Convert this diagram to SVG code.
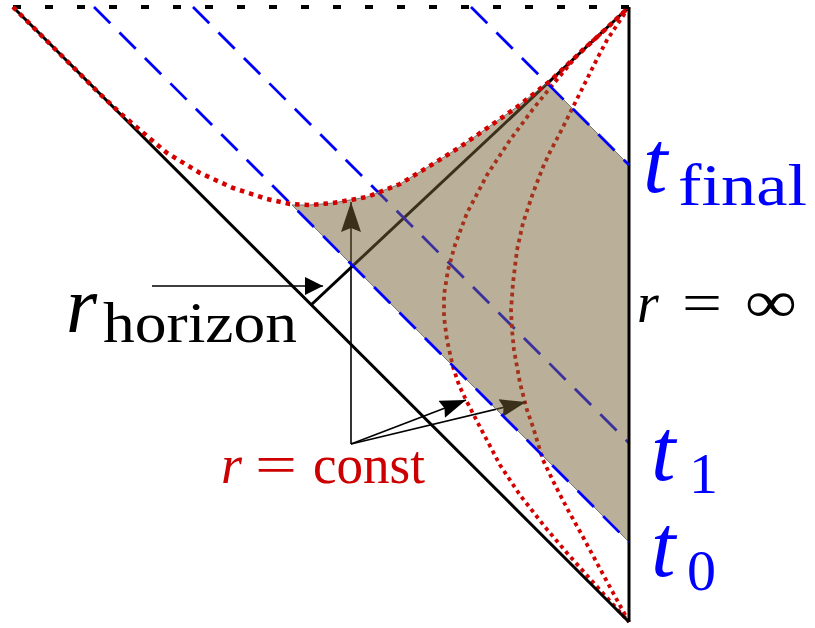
<svg xmlns="http://www.w3.org/2000/svg" width="815" height="628" viewBox="0 0 815 628">
<style>
.frame{stroke:#000;stroke-width:3;fill:none;stroke-linecap:butt}
.top{stroke:#000;stroke-width:4;fill:none;stroke-dasharray:8 24}
.blue{stroke:#0000ff;stroke-width:2.8;fill:none;stroke-dasharray:23 13}
.redout{stroke:#d40000;stroke-width:4.5;fill:none;stroke-dasharray:4.5 5;stroke-linejoin:round}
.redin{stroke:#d40000;stroke-width:3.8;fill:none;stroke-dasharray:3.8 4;stroke-linejoin:round}
.arr{stroke:#000;stroke-width:1.6;fill:none}
.shade{fill:rgb(118,97,53);fill-opacity:0.5;stroke:#777;stroke-width:1}
.it{font-family:"Liberation Serif","Times New Roman",serif;font-style:italic}
.rm{font-family:"Liberation Serif","Times New Roman",serif}
</style>
<defs>
<marker id="headV" markerWidth="32" markerHeight="22" refX="30" refY="10" orient="auto" markerUnits="userSpaceOnUse"><path d="M0,0 L30,10 L0,20 L4,10 Z" fill="#000"/></marker>
<marker id="headH" markerWidth="20" markerHeight="20" refX="18" refY="9" orient="auto" markerUnits="userSpaceOnUse"><path d="M0,0 L18,9 L0,18 Z" fill="#000"/></marker>
<marker id="headC" markerWidth="28" markerHeight="20" refX="26" refY="9" orient="auto" markerUnits="userSpaceOnUse"><path d="M0,0 L26,9 L0,18 L3,9 Z" fill="#000"/></marker>
</defs>

<g id="interior">
  <line id="horizon" class="frame" x1="629" y1="7" x2="311" y2="305"/>
  <line id="t1-line" class="blue" x1="193" y1="7" x2="629" y2="443"/>
  <path id="r-const-1" class="redin" d="M629,7 L605,30 L580,52 L560,76 L550,88 L533,109 L510,140 L487,175 L467,213 L455,245 L448,270 L444,295 L444,317 L447,340 L453,367 L459,385 L466,400 L480,427 L500,465 L520,495 L545,527 L567,553 L600,590 L629,622"/>
  <path id="r-const-2" class="redin" d="M629,7 L617,25 L607,40 L598,57 L590,73 L573,107 L560,133 L550,152 L543,167 L533,193 L523,223 L517,250 L513,283 L511,310 L512,330 L514,350 L520,383 L527,410 L533,427 L543,460 L555,485 L568,510 L583,537 L605,578 L629,622"/>
</g>

<g id="connectors">
  <line class="arr" x1="152" y1="286" x2="323" y2="286" marker-end="url(#headH)"/>
  <line class="arr" x1="351" y1="444" x2="351" y2="202" marker-end="url(#headV)"/>
  <line class="arr" x1="351" y1="444" x2="466" y2="400" marker-end="url(#headC)"/>
  <line class="arr" x1="351" y1="444" x2="526" y2="402" marker-end="url(#headC)"/>
</g>

<g id="shaded-region">
  <path class="shade" d="M292,205 L629,542 L629,165 L547,83 L517,107 L483,131 L460,147 L433,164 L400,184 L367,197 L333,203 L310,205 Z"/>
</g>

<g id="boundary">
  <line id="top-edge" class="top" x1="13" y1="7" x2="629" y2="7"/>
  <line id="left-edge" class="frame" x1="13" y1="7" x2="629" y2="622"/>
  <line id="right-edge" class="frame" x1="629" y1="7" x2="629" y2="622"/>
  <line id="t0-line" class="blue" x1="94" y1="7" x2="629" y2="542"/>
  <line id="tfinal-line" class="blue" x1="471" y1="7" x2="629" y2="165"/>
  <path id="r-outer" class="redout" d="M13,7 L60,54 L100,94 L120,113 L140,130 L167,153 L200,173 L233,188 L267,199 L290,204 L310,205 L333,203 L367,197 L400,184 L433,164 L460,147 L483,131 L517,107 L550,81 L583,50 L610,25 L629,7"/>
</g>

<g id="labels">
  <g id="label-rhorizon">
    <text class="it" x="66" y="332" font-size="80">r</text>
    <text class="rm" x="103" y="342" font-size="58" textLength="194" lengthAdjust="spacingAndGlyphs">horizon</text>
  </g>
  <g id="label-tfinal" fill="#0000ff">
    <text class="it" x="643" y="192" font-size="88">t</text>
    <text class="rm" x="678" y="205" font-size="60" textLength="129" lengthAdjust="spacingAndGlyphs">final</text>
  </g>
  <g id="label-rinf">
    <text class="it" x="637" y="322" font-size="56">r</text>
    <text class="rm" x="682" y="322" font-size="58" textLength="40" lengthAdjust="spacingAndGlyphs">=</text>
    <text class="rm" x="745" y="322" font-size="60" textLength="52" lengthAdjust="spacingAndGlyphs">∞</text>
  </g>
  <g id="label-t1" fill="#0000ff">
    <text class="it" x="651" y="480" font-size="88">t</text>
    <text class="rm" x="689" y="493" font-size="58">1</text>
  </g>
  <g id="label-t0" fill="#0000ff">
    <text class="it" x="651" y="576" font-size="88">t</text>
    <text class="rm" x="687" y="590" font-size="58">0</text>
  </g>
  <g id="label-rconst" fill="#cc0000">
    <text class="it" x="221" y="483" font-size="54">r</text>
    <text class="rm" x="255" y="483" font-size="54" textLength="42" lengthAdjust="spacingAndGlyphs">=</text>
    <text class="rm" x="313" y="483" font-size="54" textLength="112" lengthAdjust="spacingAndGlyphs">const</text>
  </g>
</g>
</svg>
